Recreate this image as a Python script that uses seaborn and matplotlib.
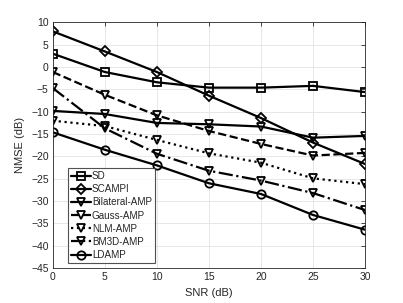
import matplotlib
matplotlib.use('Agg')
import matplotlib.pyplot as plt
import pandas as pd
import seaborn as sns

snr = [0, 5, 10, 15, 20, 25, 30]

sd = [3.0, -1.1, -3.4, -4.6, -4.6, -4.2, -5.6]
scampi = [8.0, 3.5, -1.1, -6.4, -11.4, -16.9, -21.7]
bilateral_amp = [-9.8, -10.5, -12.5, -12.8, -13.3, -15.8, -15.4]
gauss_amp = [-1.1, -6.2, -10.8, -14.3, -17.2, -19.8, -19.2]
nlm_amp = [-12.0, -13.2, -16.3, -19.3, -21.4, -24.9, -26.2]
bm3d_amp = [-4.7, -13.7, -19.4, -23.2, -25.4, -28.2, -32.0]
ldamp = [-14.6, -18.5, -22.0, -26.0, -28.4, -33.1, -36.4]

series = [
    ('SD', sd, 's', '-'),
    ('SCAMPI', scampi, 'D', '-'),
    ('Bilateral-AMP', bilateral_amp, 'v', '-'),
    ('Gauss-AMP', gauss_amp, 'v', '--'),
    ('NLM-AMP', nlm_amp, 'v', ':'),
    ('BM3D-AMP', bm3d_amp, 'v', '-.'),
    ('LDAMP', ldamp, 'o', '-'),
]


def run():
    sns.set_style('white')
    plt.rcParams['font.family'] = ['Liberation Sans', 'DejaVu Sans']
    plt.rcParams['font.size'] = 7.5

    fig = plt.figure(figsize=(4.03, 3.03), dpi=100)
    ax = fig.add_axes([0.131, 0.115, 0.775, 0.811])

    for name, vals, mk, ls in series:
        df = pd.DataFrame({'snr': snr, 'nmse': vals})
        msize = 5.0 if mk == 'D' else 6.0
        sns.lineplot(ax=ax, data=df, x='snr', y='nmse', color='black',
                     linewidth=1.6, linestyle=ls, marker=mk,
                     markersize=msize, markerfacecolor='none',
                     markeredgecolor='black', markeredgewidth=1.3,
                     label=name)

    ax.set_xlim(0, 30)
    ax.set_ylim(-45, 10)
    ax.set_xticks(range(0, 31, 5))
    ax.set_yticks(range(-45, 11, 5))
    ax.grid(True, color='#e3e3e3', linewidth=0.6)
    ax.tick_params(direction='in', length=3, width=0.6, colors='#262626',
                   top=True, right=True, labelsize=7.5, pad=3)
    for sp in ax.spines.values():
        sp.set_color('#262626')
        sp.set_linewidth(0.6)
    ax.set_xlabel('SNR (dB)', color='#262626', fontsize=8)
    ax.set_ylabel('NMSE (dB)', color='#262626', fontsize=8)

    leg = ax.legend(loc='lower left', bbox_to_anchor=(0.049, 0.021),
                    frameon=True, fancybox=False, edgecolor='#262626',
                    fontsize=7.1, handlelength=2.0, handletextpad=0.1,
                    labelspacing=0.32, borderpad=0.3, borderaxespad=0.0)
    leg.get_frame().set_linewidth(0.8)

    fig.savefig('out.png', dpi=100)


if __name__ == "__main__":
    run()
